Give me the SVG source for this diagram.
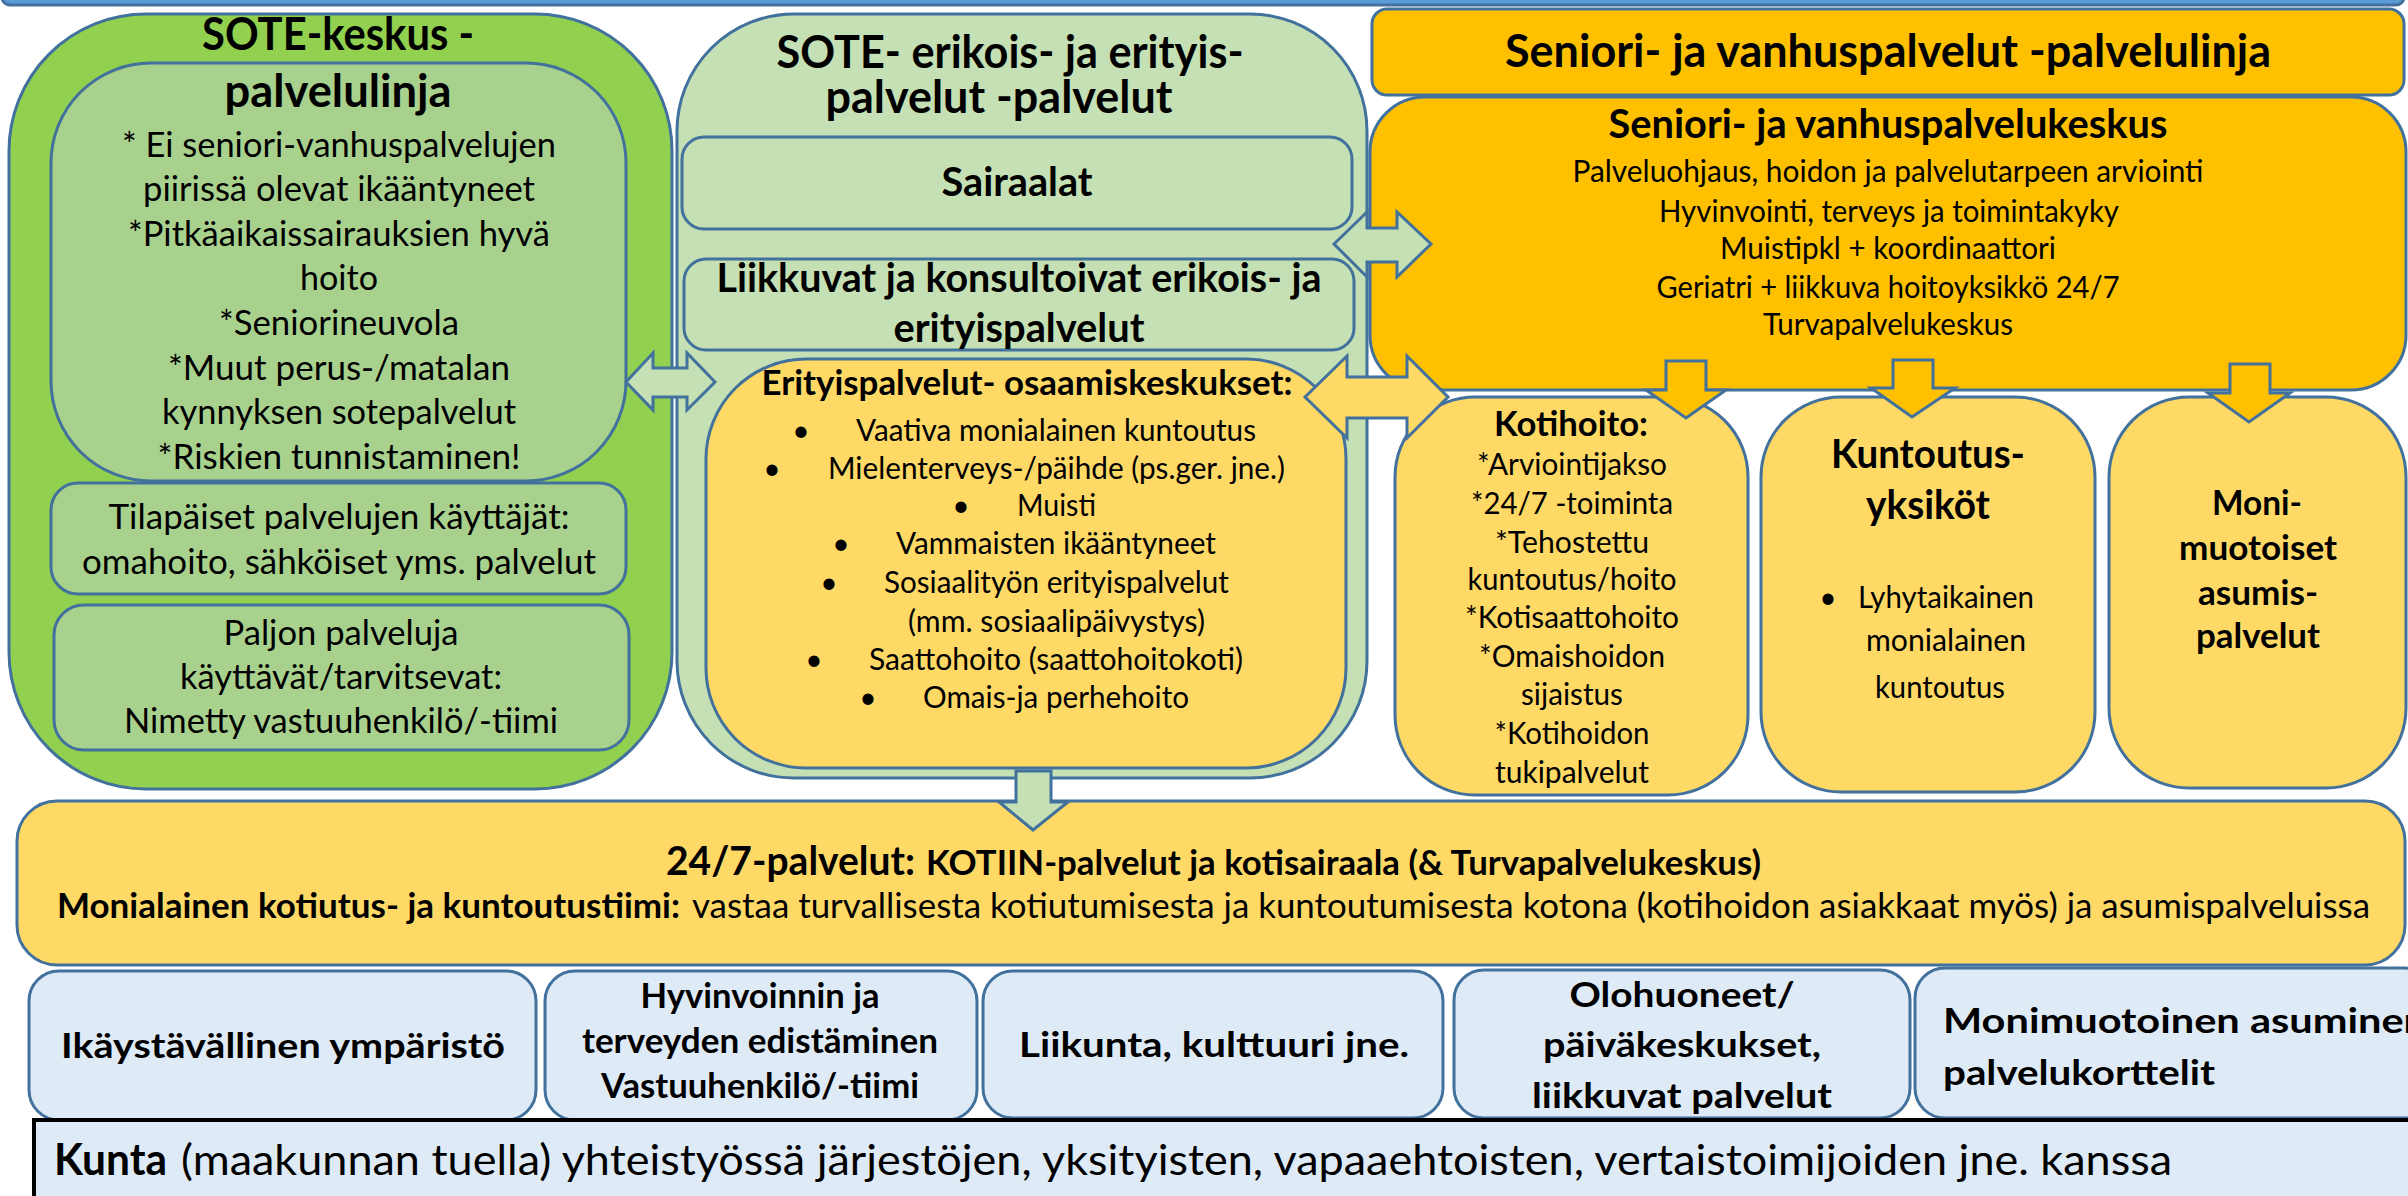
<svg xmlns="http://www.w3.org/2000/svg" width="2408" height="1196" viewBox="0 0 2408 1196">
<style>
.bx{stroke:#41719C;stroke-width:3}
.g1{fill:#92D050}.g2{fill:#A9D18E}.g3{fill:#C5E0B4}.y1{fill:#FFD966}.o1{fill:#FFC000}.lb{fill:#DEEBF7}
text{font-family:Lato,"Liberation Sans",sans-serif;fill:#000}
.b{font-weight:700}.c{text-anchor:middle}
.s46{font-size:46px}.s41{font-size:41px}.s40{font-size:40px}.s35{font-size:35px}.s34{font-size:34px}.s30{font-size:30px}.s43{font-size:43px}
</style>
<rect x="2" y="-20" width="2402" height="25" rx="8" fill="#5B9BD5" stroke="#41719C" stroke-width="3"/>

<g id="sote-keskus">
<rect class="bx g1" x="9" y="14" width="663" height="775" rx="137"/>
<text class="b c s46" x="338" y="50" textLength="272" lengthAdjust="spacingAndGlyphs">SOTE-keskus -</text>
</g>
<g id="sote-keskus-sisalto">
<rect class="bx g2" x="51" y="63" width="575" height="418" rx="100"/>
<text class="b c s46" x="338" y="107" textLength="227" lengthAdjust="spacingAndGlyphs">palvelulinja</text>
<g class="c s35">
<text x="339" y="157" textLength="434" lengthAdjust="spacingAndGlyphs">* Ei seniori-vanhuspalvelujen</text>
<text x="339" y="201" textLength="392" lengthAdjust="spacingAndGlyphs">piirissä olevat ikääntyneet</text>
<text x="339" y="246" textLength="422" lengthAdjust="spacingAndGlyphs">*Pitkäaikaissairauksien hyvä</text>
<text x="339" y="290" textLength="78" lengthAdjust="spacingAndGlyphs">hoito</text>
<text x="339" y="335" textLength="240" lengthAdjust="spacingAndGlyphs">*Seniorineuvola</text>
<text x="339" y="380" textLength="342" lengthAdjust="spacingAndGlyphs">*Muut perus-/matalan</text>
<text x="339" y="424" textLength="354" lengthAdjust="spacingAndGlyphs">kynnyksen sotepalvelut</text>
<text x="339" y="469" textLength="363" lengthAdjust="spacingAndGlyphs">*Riskien tunnistaminen!</text>
</g>
</g>
<g id="tilapaiset">
<rect class="bx g2" x="51" y="483" width="575" height="111" rx="27"/>
<g class="c s35">
<text x="339" y="529" textLength="461" lengthAdjust="spacingAndGlyphs">Tilapäiset palvelujen käyttäjät:</text>
<text x="339" y="574" textLength="514" lengthAdjust="spacingAndGlyphs">omahoito, sähköiset yms. palvelut</text>
</g>
</g>
<g id="paljon">
<rect class="bx g2" x="54" y="605" width="575" height="145" rx="30"/>
<g class="c s35">
<text x="341" y="645" textLength="235" lengthAdjust="spacingAndGlyphs">Paljon palveluja</text>
<text x="341" y="689" textLength="322" lengthAdjust="spacingAndGlyphs">käyttävät/tarvitsevat:</text>
<text x="341" y="733" textLength="434" lengthAdjust="spacingAndGlyphs">Nimetty vastuuhenkilö/-tiimi</text>
</g>
</g>

<g id="sote-erikois">
<rect class="bx g3" x="677" y="14" width="690" height="764" rx="117"/>
<text class="b c s46" x="1010" y="68" textLength="467" lengthAdjust="spacingAndGlyphs">SOTE- erikois- ja erityis-</text>
<text class="b c s46" x="999" y="113" textLength="347" lengthAdjust="spacingAndGlyphs">palvelut -palvelut</text>
</g>
<g id="sairaalat">
<rect class="bx g3" x="682" y="137" width="670" height="92" rx="22"/>
<text class="b c s40" x="1017" y="196" textLength="151" lengthAdjust="spacingAndGlyphs">Sairaalat</text>
</g>
<g id="liikkuvat">
<rect class="bx g3" x="684" y="259" width="670" height="91" rx="22"/>
<text class="b c s41" x="1019" y="292" textLength="605" lengthAdjust="spacingAndGlyphs">Liikkuvat ja konsultoivat erikois- ja</text>
<text class="b c s41" x="1019" y="342" textLength="251" lengthAdjust="spacingAndGlyphs">erityispalvelut</text>
</g>
<g id="erityispalvelut">
<rect class="bx y1" x="706" y="359" width="640" height="409" rx="100"/>
<text class="b c s35" x="1027" y="395" textLength="531" lengthAdjust="spacingAndGlyphs">Erityispalvelut- osaamiskeskukset:</text>
<g class="s30">
<text x="801" y="441" class="c">•</text><text x="856" y="441" textLength="400" lengthAdjust="spacingAndGlyphs">Vaativa monialainen kuntoutus</text>
<text x="772" y="479" class="c">•</text><text x="828" y="479" textLength="457" lengthAdjust="spacingAndGlyphs">Mielenterveys-/päihde (ps.ger. jne.)</text>
<text x="961" y="516" class="c">•</text><text x="1017" y="516" textLength="79" lengthAdjust="spacingAndGlyphs">Muisti</text>
<text x="841" y="554" class="c">•</text><text x="896" y="554" textLength="320" lengthAdjust="spacingAndGlyphs">Vammaisten ikääntyneet</text>
<text x="829" y="593" class="c">•</text><text x="884" y="593" textLength="345" lengthAdjust="spacingAndGlyphs">Sosiaalityön erityispalvelut</text>
<text x="908" y="632" textLength="297" lengthAdjust="spacingAndGlyphs">(mm. sosiaalipäivystys)</text>
<text x="814" y="670" class="c">•</text><text x="869" y="670" textLength="374" lengthAdjust="spacingAndGlyphs">Saattohoito (saattohoitokoti)</text>
<text x="868" y="708" class="c">•</text><text x="923" y="708" textLength="266" lengthAdjust="spacingAndGlyphs">Omais-ja perhehoito</text>
</g>
</g>

<g id="seniori-linja">
<rect class="bx o1" x="1372" y="9" width="1032" height="86" rx="15"/>
<text class="b c s46" x="1888" y="67" textLength="766" lengthAdjust="spacingAndGlyphs">Seniori- ja vanhuspalvelut -palvelulinja</text>
</g>
<g id="seniori-keskus">
<rect class="bx o1" x="1370" y="97" width="1036" height="293" rx="55"/>
<text class="b c s41" x="1888" y="138" textLength="559" lengthAdjust="spacingAndGlyphs">Seniori- ja vanhuspalvelukeskus</text>
<g class="c s30">
<text x="1888" y="182" textLength="631" lengthAdjust="spacingAndGlyphs">Palveluohjaus, hoidon ja palvelutarpeen arviointi</text>
<text x="1889" y="222" textLength="460" lengthAdjust="spacingAndGlyphs">Hyvinvointi, terveys ja toimintakyky</text>
<text x="1888" y="259" textLength="336" lengthAdjust="spacingAndGlyphs">Muistipkl + koordinaattori</text>
<text x="1888" y="298" textLength="463" lengthAdjust="spacingAndGlyphs">Geriatri + liikkuva hoitoyksikkö 24/7</text>
<text x="1888" y="335" textLength="250" lengthAdjust="spacingAndGlyphs">Turvapalvelukeskus</text>
</g>
</g>
<g id="kotihoito">
<rect class="bx y1" x="1395" y="397" width="353" height="398" rx="80"/>
<text class="b c s35" x="1571" y="436" textLength="154" lengthAdjust="spacingAndGlyphs">Kotihoito:</text>
<g class="c s30">
<text x="1572" y="475" textLength="190" lengthAdjust="spacingAndGlyphs">*Arviointijakso</text>
<text x="1572" y="514" textLength="202" lengthAdjust="spacingAndGlyphs">*24/7 -toiminta</text>
<text x="1572" y="553" textLength="154" lengthAdjust="spacingAndGlyphs">*Tehostettu</text>
<text x="1572" y="590" textLength="209" lengthAdjust="spacingAndGlyphs">kuntoutus/hoito</text>
<text x="1572" y="628" textLength="214" lengthAdjust="spacingAndGlyphs">*Kotisaattohoito</text>
<text x="1572" y="667" textLength="186" lengthAdjust="spacingAndGlyphs">*Omaishoidon</text>
<text x="1572" y="705" textLength="102" lengthAdjust="spacingAndGlyphs">sijaistus</text>
<text x="1572" y="744" textLength="155" lengthAdjust="spacingAndGlyphs">*Kotihoidon</text>
<text x="1572" y="783" textLength="154" lengthAdjust="spacingAndGlyphs">tukipalvelut</text>
</g>
</g>
<g id="kuntoutusyksikot">
<rect class="bx y1" x="1761" y="397" width="334" height="395" rx="80"/>
<text class="b c s40" x="1928" y="468" textLength="194" lengthAdjust="spacingAndGlyphs">Kuntoutus-</text>
<text class="b c s40" x="1928" y="519" textLength="124" lengthAdjust="spacingAndGlyphs">yksiköt</text>
<g class="s30">
<text x="1828" y="608" class="c">•</text>
<text x="1946" y="608" class="c" textLength="176" lengthAdjust="spacingAndGlyphs">Lyhytaikainen</text>
<text x="1946" y="651" class="c" textLength="160" lengthAdjust="spacingAndGlyphs">monialainen</text>
<text x="1940" y="698" class="c" textLength="130" lengthAdjust="spacingAndGlyphs">kuntoutus</text>
</g>
</g>
<g id="asumispalvelut">
<rect class="bx y1" x="2109" y="397" width="297" height="391" rx="80"/>
<g class="b c s35">
<text x="2257" y="515" textLength="90" lengthAdjust="spacingAndGlyphs">Moni-</text>
<text x="2258" y="560" textLength="158" lengthAdjust="spacingAndGlyphs">muotoiset</text>
<text x="2258" y="605" textLength="120" lengthAdjust="spacingAndGlyphs">asumis-</text>
<text x="2258" y="648" textLength="124" lengthAdjust="spacingAndGlyphs">palvelut</text>
</g>
</g>

<g id="palvelut-24-7">
<rect class="bx y1" x="17" y="801" width="2388" height="164" rx="40"/>
<text x="666" y="875" class="b s41" textLength="249" lengthAdjust="spacingAndGlyphs">24/7-palvelut:</text>
<text x="926" y="875" class="b s34" textLength="835" lengthAdjust="spacingAndGlyphs">KOTIIN-palvelut ja kotisairaala (&amp; Turvapalvelukeskus)</text>
<text x="57" y="918" class="b s34" textLength="623" lengthAdjust="spacingAndGlyphs">Monialainen kotiutus- ja kuntoutustiimi:</text>
<text x="692" y="918" class="s34" textLength="1678" lengthAdjust="spacingAndGlyphs">vastaa turvallisesta kotiutumisesta ja kuntoutumisesta kotona (kotihoidon asiakkaat myös) ja asumispalveluissa</text>
</g>

<g id="ymparisto">
<rect class="bx lb" x="29" y="971" width="507" height="149" rx="30"/>
<text class="b c s35" x="283" y="1058" textLength="444" lengthAdjust="spacingAndGlyphs">Ikäystävällinen ympäristö</text>
</g>
<g id="hyvinvointi">
<rect class="bx lb" x="545" y="971" width="432" height="149" rx="30"/>
<g class="b c s35">
<text x="760" y="1008" textLength="239" lengthAdjust="spacingAndGlyphs">Hyvinvoinnin ja</text>
<text x="760" y="1053" textLength="356" lengthAdjust="spacingAndGlyphs">terveyden edistäminen</text>
<text x="760" y="1098" textLength="318" lengthAdjust="spacingAndGlyphs">Vastuuhenkilö/-tiimi</text>
</g>
</g>
<g id="liikunta">
<rect class="bx lb" x="983" y="971" width="460" height="147" rx="30"/>
<text class="b c s35" x="1214" y="1057" textLength="390" lengthAdjust="spacingAndGlyphs">Liikunta, kulttuuri jne.</text>
</g>
<g id="olohuoneet">
<rect class="bx lb" x="1454" y="970" width="456" height="148" rx="30"/>
<g class="b c s35">
<text x="1682" y="1007" textLength="225" lengthAdjust="spacingAndGlyphs">Olohuoneet/</text>
<text x="1682" y="1057" textLength="278" lengthAdjust="spacingAndGlyphs">päiväkeskukset,</text>
<text x="1682" y="1108" textLength="300" lengthAdjust="spacingAndGlyphs">liikkuvat palvelut</text>
</g>
</g>
<g id="asuminen">
<rect class="bx lb" x="1915" y="968" width="520" height="150" rx="30"/>
<g class="b s35">
<text x="1943" y="1033" textLength="484" lengthAdjust="spacingAndGlyphs">Monimuotoinen asuminen</text>
<text x="1943" y="1085" textLength="272" lengthAdjust="spacingAndGlyphs">palvelukorttelit</text>
</g>
</g>
<g id="kunta">
<rect x="34" y="1120" width="2400" height="100" fill="#DEEBF7" stroke="#000" stroke-width="4"/>
<text x="54" y="1175" class="b s43" textLength="113" lengthAdjust="spacingAndGlyphs">Kunta</text>
<text x="181" y="1175" class="s43" textLength="1991" lengthAdjust="spacingAndGlyphs">(maakunnan tuella) yhteistyössä järjestöjen, yksityisten, vapaaehtoisten, vertaistoimijoiden jne. kanssa</text>
</g>

<g id="connectors" stroke="#41719C" stroke-width="3" stroke-linejoin="miter">
<path class="g3" d="M626,382 L653,353 L653,368 L687,368 L687,353 L715,382 L687,410 L687,397 L653,397 L653,410 Z"/>
<path class="g3" d="M1334,244 L1367,212 L1367,228 L1397,228 L1397,212 L1431,244 L1397,277 L1397,262 L1367,262 L1367,277 Z"/>
<path class="y1" d="M1305,397 L1347,356 L1347,377 L1407,377 L1407,356 L1448,397 L1407,438 L1407,418 L1347,418 L1347,438 Z"/>
<path class="o1" d="M1666,361 L1706,361 L1706,390 L1726,390 L1686,418 L1646,390 L1666,390 Z"/>
<path class="o1" d="M1893,360 L1933,360 L1933,388 L1955,388 L1912,417 L1871,388 L1893,388 Z"/>
<path class="o1" d="M2230,364 L2270,364 L2270,393 L2290,393 L2249,422 L2208,393 L2230,393 Z"/>
<path class="g3" d="M1016,771 L1051,771 L1051,802 L1068,802 L1033,830 L999,802 L1016,802 Z"/>
</g>
</svg>
